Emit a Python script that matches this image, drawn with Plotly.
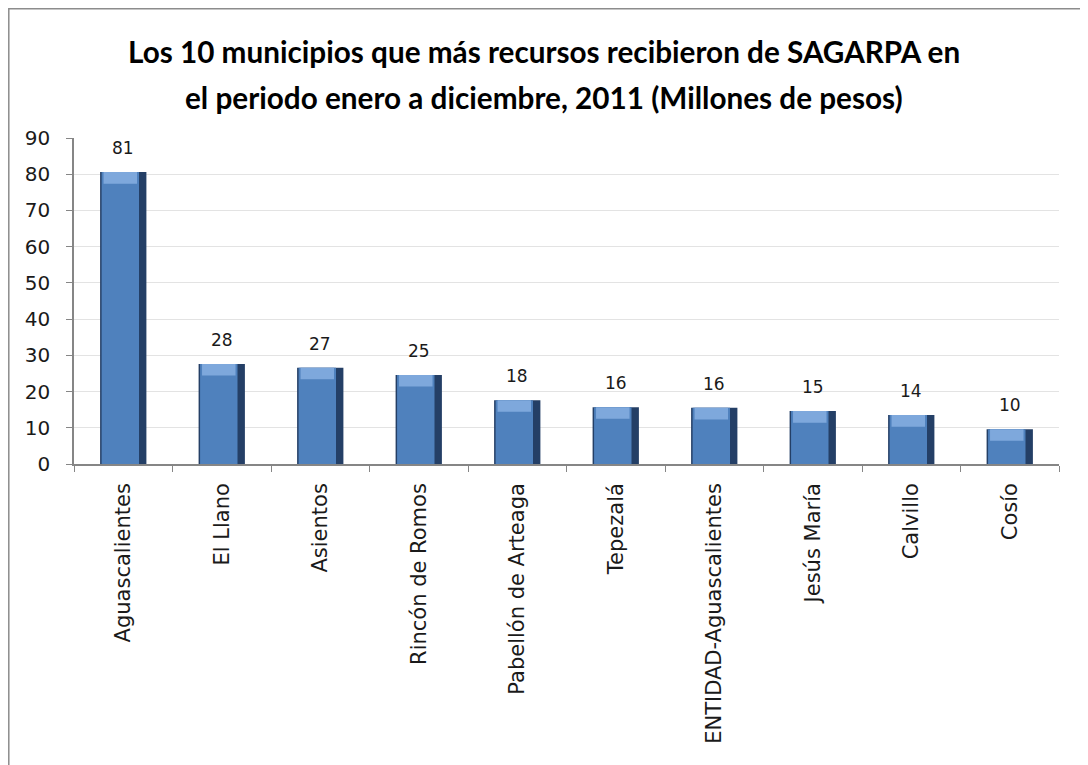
import plotly.graph_objects as go

categories = ["Aguascalientes", "El Llano", "Asientos", "Rincón de Romos",
              "Pabellón de Arteaga", "Tepezalá", "ENTIDAD-Aguascalientes",
              "Jesús María", "Calvillo", "Cosío"]
values = [80.6, 27.6, 26.6, 24.6, 17.6, 15.7, 15.5, 14.6, 13.5, 9.6]
y_ticks = [0, 10, 20, 30, 40, 50, 60, 70, 80, 90]
title_lines = ["Los 10 municipios que más recursos recibieron de SAGARPA en",
               "el periodo enero a diciembre, 2011 (Millones de pesos)"]

# page is rendered with an 8px body margin; work in page pixels
OFF = 8
W, H = 1088 - OFF, 765 - OFF
PL, PR, PT, PB = 74, 1059, 138, 464  # plot area in page pixels
L, T = PL - OFF, PT - OFF
R, B = W - (PR - OFF), H - (PB - OFF)
pw, ph = PR - PL, PB - PT

def px_x(x):
    return (x - PL) / pw

def px_y(y):
    return (PB - y) / ph

fig = go.Figure()
bw = 0.47
cap = 3.2
# dark shaded body
fig.add_trace(go.Bar(x=categories, y=values, width=bw, offset=-bw / 2,
                     marker=dict(color="#243f66", line=dict(width=0)),
                     hoverinfo="skip"))
# main blue face
fig.add_trace(go.Bar(x=categories, y=values, width=bw - 0.09, offset=-bw / 2 + 0.015,
                     marker=dict(color="#4f81bd", line=dict(width=0)),
                     hoverinfo="x+y"))
# lighter top bevel
fig.add_trace(go.Bar(x=categories, y=[cap] * len(values),
                     base=[v - cap for v in values],
                     width=bw - 0.13, offset=-bw / 2 + 0.035,
                     marker=dict(color="#7ea8dc", line=dict(width=0)),
                     hoverinfo="skip"))

for c, v in zip(categories, values):
    fig.add_annotation(x=c, y=v, text=str(int(round(v))), showarrow=False,
                       yanchor="bottom", yshift=12,
                       font=dict(family="DejaVu Sans", size=17, color="#1a1a1a"))

for line, yc in zip(title_lines, [52, 97]):
    fig.add_annotation(xref="paper", yref="paper", x=px_x(544), y=px_y(yc),
                       text="<b>" + line + "</b>", showarrow=False,
                       xanchor="center", yanchor="middle",
                       font=dict(family="Lato", size=29.7, color="#000000"))

fig.add_shape(type="rect", xref="paper", yref="paper",
              x0=px_x(8.8), x1=px_x(1086), y0=px_y(8.8), y1=px_y(820),
              line=dict(color="#8c8c8c", width=1.5), layer="below")

fig.update_layout(
    width=W, height=H,
    margin=dict(l=L, r=R, t=T, b=B, pad=0),
    paper_bgcolor="white", plot_bgcolor="white",
    barmode="overlay",
    showlegend=False,
    xaxis=dict(type="category", tickangle=-90, tickson="boundaries",
               ticks="outside", ticklen=6, tickcolor="#868686",
               showline=True, linecolor="#868686", linewidth=1.5,
               showgrid=False, ticklabelstandoff=9,
               tickfont=dict(family="DejaVu Sans", size=21, color="#1a1a1a")),
    yaxis=dict(range=[0, 90], tickvals=y_ticks, ticktext=[str(t) for t in y_ticks],
               ticks="outside", ticklen=6, tickcolor="#868686",
               showline=True, linecolor="#868686", linewidth=1.5,
               showgrid=True, gridcolor="#e3e3e3", gridwidth=1,
               zeroline=False, ticklabelstandoff=12,
               tickfont=dict(family="DejaVu Sans", size=20, color="#1a1a1a")),
)

fig.write_html("out.html")
